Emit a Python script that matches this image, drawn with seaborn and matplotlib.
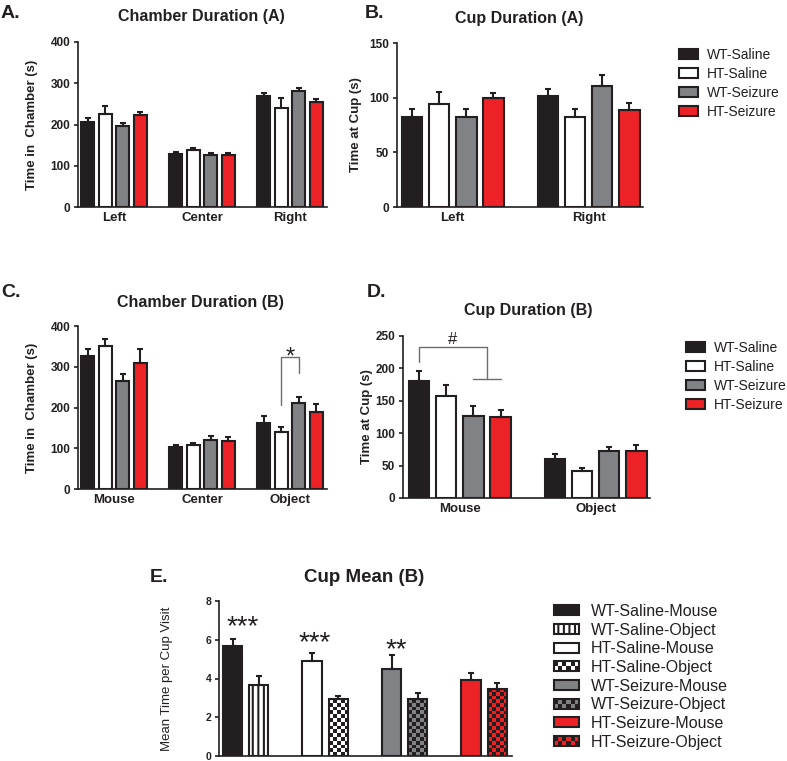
import numpy as np
import pandas as pd
import seaborn as sns
import matplotlib.pyplot as plt
from matplotlib.patches import Patch, Rectangle
from matplotlib.colors import ListedColormap
from matplotlib.legend_handler import HandlerBase

# colours
dark = '#231f20'
gray = '#808285'
red = '#ec2227'
brk = '#6d6e71'

groups = ['WT-Saline', 'HT-Saline', 'WT-Seizure', 'HT-Seizure']
colors = [dark, 'white', gray, red]

# A. chamber duration (A) - rows = groups
a_cats = ['Left', 'Center', 'Right']
a_mean = [[206, 129, 268], [225, 137, 240], [196, 127, 280], [222, 127, 254]]
a_err = [[10, 4, 9], [21, 6, 24], [8, 5, 8], [9, 4, 9]]

# B. cup duration (A)
b_cats = ['Left', 'Right']
b_mean = [[82.6, 101.6], [94.3, 82.6], [82.3, 111], [100, 88.5]]
b_err = [[7, 6], [11, 7], [7, 10], [4.5, 6.5]]

# C. chamber duration (B)
c_cats = ['Mouse', 'Center', 'Object']
c_mean = [[326, 104, 163], [351, 107, 140], [266, 120, 210], [310, 119, 190]]
c_err = [[17, 4, 15], [16, 6, 12], [17, 10, 15], [33, 8, 18]]

# D. cup duration (B)
d_cats = ['Mouse', 'Object']
d_mean = [[180, 60], [158, 42], [127, 72], [125.5, 72]]
d_err = [[16, 8], [16, 3.6], [15, 7], [11, 10]]

# E. cup mean (B)
e_locs = ['Mouse', 'Object']
e_mouse = [5.66, 4.90, 4.49, 3.94]
e_mouse_err = [0.38, 0.42, 0.70, 0.34]
e_object = [3.68, 2.94, 2.92, 3.46]
e_object_err = [0.45, 0.17, 0.31, 0.31]
e_stars = ['***', '***', '**']

sns.set_style('ticks')
plt.rcParams['font.family'] = ['Liberation Sans', 'DejaVu Sans']
plt.rcParams['hatch.linewidth'] = 1.5

W, H = 787, 761
fig = plt.figure(figsize=(W / 100, H / 100), dpi=100)


def box(l, t, r, b):
    return [l / W, 1 - b / H, (r - l) / W, (b - t) / H]


def ftext(x, y, s, **kw):
    fig.text(x / W, 1 - y / H, s, va='center', **kw)


def add_err(ax, conts, errs):
    for cont, e in zip(conts, errs):
        xs = [b.get_x() + b.get_width() / 2 for b in cont]
        ys = [b.get_height() for b in cont]
        ax.errorbar(xs, ys, yerr=[np.zeros(len(e)), e], fmt='none', ecolor=dark,
                    elinewidth=1.5, capsize=2.5, capthick=1.5)


def style(ax, ymax, ystep, xlim, ylabel, labx, ysize=8.5, xsize=9.5, lsize=9.5, lweight='bold'):
    ax.set_xlim(*xlim)
    ax.set_ylim(0, ymax)
    ax.set_yticks(np.arange(0, ymax + 0.01, ystep))
    sns.despine(ax=ax)
    for s in ['left', 'bottom']:
        ax.spines[s].set_linewidth(1.2)
        ax.spines[s].set_color(dark)
    ax.tick_params(axis='y', length=3, width=1.2, color=dark, labelsize=ysize, pad=2.5, labelcolor=dark)
    ax.tick_params(axis='x', length=0, labelsize=xsize, pad=3.5, labelcolor=dark)
    for t in ax.get_xticklabels() + ax.get_yticklabels():
        t.set_fontweight('bold')
    ax.set_xlabel('')
    ax.set_ylabel(ylabel, fontsize=lsize, fontweight=lweight, color=dark)
    ax.yaxis.set_label_coords(labx, 0.5)


def panel(rect, cats, means, errs):
    ax = fig.add_axes(rect)
    df = pd.DataFrame([(c, g, m) for g, mr in zip(groups, means) for c, m in zip(cats, mr)],
                      columns=['cat', 'group', 'mean'])
    sns.barplot(data=df, x='cat', y='mean', hue='group', order=cats, hue_order=groups,
                palette=dict(zip(groups, colors)), saturation=1, width=0.8, gap=0.25,
                errorbar=None, edgecolor=dark, linewidth=1.5, legend=False, ax=ax)
    bars = list(ax.containers)
    add_err(ax, bars, errs)
    return ax, bars


def checker(ax, bar, c1, c2, size=3.8):
    x0, y0 = bar.get_x(), bar.get_y()
    w, h = bar.get_width(), bar.get_height()
    p0 = ax.transData.transform((x0, y0))
    p1 = ax.transData.transform((x0 + w, y0 + h))
    nx = max(1, int(round((p1[0] - p0[0]) / size)))
    ny = max(1, int(round((p1[1] - p0[1]) / size)))
    pat = np.add.outer(np.arange(ny), np.arange(nx)) % 2
    im = ax.imshow(pat, extent=(x0, x0 + w, y0, y0 + h), origin='lower', aspect='auto',
                   cmap=ListedColormap([c1, c2]), interpolation='nearest', zorder=0.5)
    im.set_clip_path(bar)


class HandlerChecker(HandlerBase):
    def __init__(self, c1, c2, nx=6, ny=2):
        super().__init__()
        self.c1, self.c2, self.nx, self.ny = c1, c2, nx, ny

    def create_artists(self, legend, orig_handle, xdescent, ydescent, width, height, fontsize, trans):
        x0, y0 = -xdescent, -ydescent
        arts = [Rectangle((x0, y0), width, height, facecolor=self.c2, edgecolor='none', transform=trans)]
        dx, dy = width / self.nx, height / self.ny
        for i in range(self.nx):
            for j in range(self.ny):
                if (i + j) % 2 == 0:
                    arts.append(Rectangle((x0 + i * dx, y0 + j * dy), dx, dy, facecolor=self.c1,
                                          edgecolor='none', transform=trans))
        arts.append(Rectangle((x0, y0), width, height, facecolor='none', edgecolor=dark,
                              linewidth=1.5, transform=trans))
        return arts


# ---- A ----
ax_a, _ = panel(box(78, 42, 327, 207), a_cats, a_mean, a_err)
style(ax_a, 400, 100, (-0.41, 2.42), 'Time in  Chamber (s)', -0.16)
ftext(1, 13, 'A.', fontsize=14, fontweight='bold', color=dark)
ftext(201, 17, 'Chamber Duration (A)', ha='center', fontsize=11.5, fontweight='bold', color=dark)

# ---- B ----
ax_b, _ = panel(box(397, 43, 643, 207), b_cats, b_mean, b_err)
style(ax_b, 150, 50, (-0.41, 1.40), 'Time at Cup (s)', -0.142)
ftext(365, 13, 'B.', fontsize=14, fontweight='bold', color=dark)
ftext(519, 19, 'Cup Duration (A)', ha='center', fontsize=11.5, fontweight='bold', color=dark)

leg_handles = [Patch(facecolor=c, edgecolor=dark, linewidth=1.5) for c in colors]
fig.legend(leg_handles, groups, loc='upper left', bbox_to_anchor=(679 / W, 1 - 48 / H),
           frameon=False, borderpad=0, borderaxespad=0, handlelength=1.4, handleheight=0.7,
           handletextpad=0.6, labelspacing=0.36, fontsize=10, labelcolor=dark)

# ---- C ----
ax_c, c_bars = panel(box(78, 326, 327, 489), c_cats, c_mean, c_err)
style(ax_c, 400, 100, (-0.41, 2.42), 'Time in  Chamber (s)', -0.16)
ftext(1, 292, 'C.', fontsize=14, fontweight='bold', color=dark)
ftext(200, 302, 'Chamber Duration (B)', ha='center', fontsize=11.5, fontweight='bold', color=dark)

b1 = c_bars[1][2]
b2 = c_bars[2][2]
x1 = b1.get_x() + b1.get_width() / 2
x2 = b2.get_x() + b2.get_width() / 2
ax_c.plot([x1, x1, x2, x2], [206, 324, 324, 285], color=brk, lw=1)
ax_c.text((x1 + x2) / 2, 307, '*', ha='center', va='baseline', fontsize=17, color=dark)

# ---- D ----
ax_d, d_bars = panel(box(403, 336, 650, 498), d_cats, d_mean, d_err)
style(ax_d, 250, 50, (-0.418, 1.40), 'Time at Cup (s)', -0.12)
ftext(367, 292, 'D.', fontsize=14, fontweight='bold', color=dark)
ftext(528, 311, 'Cup Duration (B)', ha='center', fontsize=11.5, fontweight='bold', color=dark)

bw = d_bars[0][0]
bs = d_bars[2][0]
bh = d_bars[3][0]
xw = bw.get_x() + bw.get_width() / 2
xs_ = bs.get_x() + bs.get_width() / 2
xh = bh.get_x() + bh.get_width() / 2
xm = (xs_ + xh) / 2
ax_d.plot([xw, xw, xm, xm], [210, 233.5, 233.5, 184], color=brk, lw=1)
ax_d.plot([xs_, xh], [184, 184], color=brk, lw=1)
ax_d.text((xw + xm) / 2, 237.6, '#', ha='center', va='baseline', fontsize=12, color=dark)

fig.legend(leg_handles, groups, loc='upper left', bbox_to_anchor=(686 / W, 1 - 341 / H),
           frameon=False, borderpad=0, borderaxespad=0, handlelength=1.4, handleheight=0.7,
           handletextpad=0.6, labelspacing=0.36, fontsize=10, labelcolor=dark)

# ---- E ----
ax_e = fig.add_axes(box(219, 601, 512, 756))
df_e = pd.DataFrame({
    'group': groups * 2,
    'loc': [e_locs[0]] * 4 + [e_locs[1]] * 4,
    'mean': e_mouse + e_object,
})
sns.barplot(data=df_e, x='group', y='mean', hue='loc', order=groups, hue_order=e_locs,
            palette=['white', 'white'], saturation=1, width=0.656, gap=0.256, errorbar=None,
            edgecolor=dark, linewidth=1.5, legend=False, ax=ax_e)
mouse_bars, obj_bars = list(ax_e.containers)[:2]
add_err(ax_e, [mouse_bars, obj_bars], [e_mouse_err, e_object_err])
style(ax_e, 8, 2, (-0.336, 3.35), 'Mean Time per Cup Visit', -0.157,
      ysize=7.5, lsize=9.5, lweight='normal')
ax_e.tick_params(axis='x', labelbottom=False)

for b, c in zip(mouse_bars, colors):
    b.set_facecolor(c)
obj_bars[0].set_facecolor('white')
obj_bars[0].set_hatch('|||')
for b, c in zip(list(obj_bars)[1:], colors[1:]):
    b.set_facecolor('none')
    checker(ax_e, b, c, dark)

star_y = [6.3, 5.45, 5.1]
star_dx = [0.12, 0.03, 0.06]
for b, s, y, dx in zip(mouse_bars, e_stars, star_y, star_dx):
    ax_e.text(b.get_x() + b.get_width() / 2 + dx, y, s, ha='center', va='baseline',
              fontsize=20, color=dark)

ftext(150, 577, 'E.', fontsize=14, fontweight='bold', color=dark)
ftext(364, 578, 'Cup Mean (B)', ha='center', fontsize=13.5, fontweight='bold', color=dark)

e_handles, e_labels, hmap = [], [], {}
for g, c in zip(groups, colors):
    e_handles.append(Patch(facecolor=c, edgecolor=dark, linewidth=1.5))
    e_labels.append(g + '-Mouse')
    if g == 'WT-Saline':
        ho = Patch(facecolor='white', edgecolor=dark, linewidth=1.5, hatch='|||')
    else:
        ho = Patch(facecolor=c, edgecolor=dark, linewidth=1.5)
        hmap[ho] = HandlerChecker(c, dark)
    e_handles.append(ho)
    e_labels.append(g + '-Object')

fig.legend(e_handles, e_labels, handler_map=hmap, loc='upper left',
           bbox_to_anchor=(554 / W, 1 - 604 / H), frameon=False, borderpad=0, borderaxespad=0,
           handlelength=1.55, handleheight=0.6, handletextpad=0.75, labelspacing=0.23,
           fontsize=11.5, labelcolor=dark)

fig.savefig('out.png', dpi=100)
